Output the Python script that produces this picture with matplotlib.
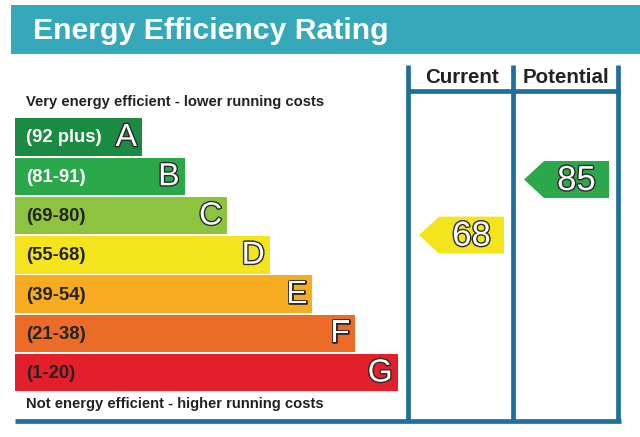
import matplotlib
matplotlib.use("Agg")
import matplotlib.pyplot as plt
from matplotlib.patches import Polygon, Rectangle
import matplotlib.patheffects as pe

# ---- data ----
bands = ["A", "B", "C", "D", "E", "F", "G"]
ranges = ["(92 plus)", "(81-91)", "(69-80)", "(55-68)", "(39-54)", "(21-38)", "(1-20)"]
band_colors = ["#1b8a43", "#2ba84a", "#8cc43f", "#f4e41c", "#f6ab21", "#eb6b27", "#e21f2b"]
label_colors = ["white", "white", "#222222", "#222222", "#222222", "#222222", "#222222"]
columns = ["Current", "Potential"]
scores = [68, 85]
score_colors = ["#f4e41c", "#2ba84a"]
title = "Energy Efficiency Rating"
top_note = "Very energy efficient - lower running costs"
bottom_note = "Not energy efficient - higher running costs"

FONT = "Liberation Sans"
LINE = "#1e6f9e"

fig = plt.figure(figsize=(6.4, 4.37), dpi=100)
ax = fig.add_axes([0, 0, 1, 1])
ax.set_xlim(0, 640)
ax.set_ylim(437, 0)
ax.axis("off")

# title bar
ax.add_patch(Rectangle((11, 5), 640, 49, color="#35a9b9", lw=0))
ax.text(33, 39, title, fontsize=21.8, fontweight="bold", color="white",
        family=FONT, va="baseline", ha="left")

# bands
row0, pitch, bh = 137.0, 39.25, 37.5
left = 15
centers = [row0 + pitch * i for i in range(len(bands))]
rights = [142 + 42.6 * i for i in range(len(bands))]
ax.barh(centers, [r - left for r in rights], left=left, height=bh,
        color=band_colors, linewidth=0)

stroke = [pe.Stroke(linewidth=2.0, foreground="#2a2a2a"), pe.Normal()]
for c, r, rng, b, lc in zip(centers, rights, ranges, bands, label_colors):
    ax.text(26, c + 1, rng, fontsize=13.3, fontweight="bold", color=lc,
            family=FONT, va="center", ha="left")
    ax.text(r - 5, c + 1, b, fontsize=23, color="white", family=FONT,
            va="center", ha="right", path_effects=stroke)

ax.text(26, 106, top_note, fontsize=10.6, fontweight="bold", color="#222222",
        family=FONT, va="baseline", ha="left")
ax.text(26, 408, bottom_note, fontsize=10.6, fontweight="bold", color="#222222",
        family=FONT, va="baseline", ha="left")

# columns
col_x = [408, 513, 618]
top_y, head_y, bot_y = 65, 91, 421
lw = 3.4
for x in col_x:
    ax.plot([x, x], [top_y, bot_y], color=LINE, lw=lw, solid_capstyle="butt")
ax.plot([col_x[0] - 1.5, col_x[-1] + 1.5], [head_y, head_y], color=LINE, lw=lw,
        solid_capstyle="butt")
ax.plot([left, col_x[-1] + 2.5], [bot_y, bot_y], color=LINE, lw=lw,
        solid_capstyle="butt")

for i, name in enumerate(columns):
    cx = (col_x[i] + col_x[i + 1]) / 2 + 1
    ax.text(cx, 83, name, fontsize=14.8, fontweight="bold", color="#222222",
            family=FONT, va="baseline", ha="center")

# score arrows
def score_y(s):
    return row0 + pitch * (0.5 + (92 - s) / 12.0)

ah = 37
tip = 20
for i, (s, col) in enumerate(zip(scores, score_colors)):
    x0 = col_x[i] + 11
    x1 = col_x[i + 1] - 9
    y = score_y(s)
    poly = Polygon([(x0, y), (x0 + tip, y - ah / 2), (x1, y - ah / 2),
                    (x1, y + ah / 2), (x0 + tip, y + ah / 2)],
                   closed=True, color=col, lw=0)
    ax.add_patch(poly)
    ax.text((x0 + tip + x1) / 2, y + 1, str(s), fontsize=25, color="white",
            family=FONT, va="center", ha="center", path_effects=stroke)

fig.savefig("out.png", dpi=100, facecolor="white")
